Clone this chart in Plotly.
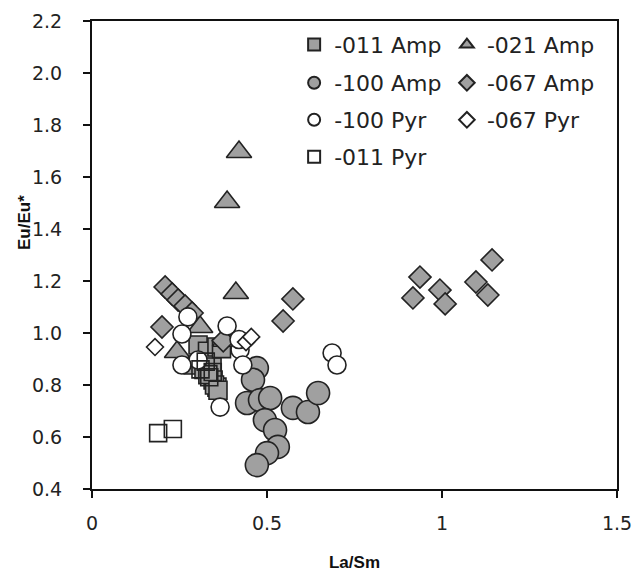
import plotly.graph_objects as go

# -011 Amp (grey squares)
amp011_x = [0.303, 0.33, 0.357, 0.289, 0.32, 0.343, 0.346, 0.357, 0.35, 0.331, 0.37, 0.36]
amp011_y = [0.954, 0.93, 0.946, 0.877, 0.86, 0.869, 0.819, 0.792, 0.80, 0.84, 0.94, 0.78]
# -021 Amp (grey triangles)
amp021_x = [0.42, 0.386, 0.411, 0.309, 0.243, 0.38]
amp021_y = [1.696, 1.504, 1.154, 1.023, 0.927, 0.97]
# -100 Amp (grey circles)
amp100_x = [0.471, 0.46, 0.443, 0.48, 0.509, 0.494, 0.523, 0.531, 0.50, 0.471, 0.574, 0.617, 0.646]
amp100_y = [0.865, 0.82, 0.731, 0.742, 0.75, 0.665, 0.627, 0.562, 0.538, 0.492, 0.712, 0.696, 0.769]
# -067 Amp (grey diamonds)
amp067_x = [0.937, 0.917, 0.994, 1.009, 1.097, 1.131, 1.143, 0.574, 0.546,
            0.209, 0.229, 0.246, 0.266, 0.286, 0.20, 0.375]
amp067_y = [1.215, 1.135, 1.165, 1.112, 1.196, 1.146, 1.281, 1.131, 1.046,
            1.177, 1.15, 1.127, 1.104, 1.077, 1.023, 0.97]
# -100 Pyr (open circles)
pyr100_x = [0.274, 0.257, 0.386, 0.303, 0.257, 0.423, 0.431, 0.366, 0.686, 0.70, 0.42]
pyr100_y = [1.062, 0.996, 1.027, 0.896, 0.877, 0.935, 0.877, 0.715, 0.923, 0.877, 0.975]
# -067 Pyr (open diamonds)
pyr067_x = [0.18, 0.44, 0.455]
pyr067_y = [0.946, 0.965, 0.985]
# -011 Pyr (open squares)
pyr011_x = [0.189, 0.231, 0.31, 0.335, 0.345, 0.325]
pyr011_y = [0.615, 0.631, 0.86, 0.83, 0.85, 0.89]

x_ticks = [0, 0.5, 1, 1.5]
x_tick_labels = ["0", "0.5", "1", "1.5"]
y_ticks = [0.4, 0.6, 0.8, 1.0, 1.2, 1.4, 1.6, 1.8, 2.0, 2.2]
y_tick_labels = ["0.4", "0.6", "0.8", "1.0", "1.2", "1.4", "1.6", "1.8", "2.0", "2.2"]

GREY = "#a0a0a0"
EDGE = "#222222"
FONT = "DejaVu Sans"

fig = go.Figure()

def add(name, xs, ys, symbol, size, fill, legend):
    fig.add_trace(go.Scatter(
        x=xs, y=ys, mode="markers", name=name, legend=legend,
        marker=dict(symbol=symbol, size=size, color=fill,
                    line=dict(color=EDGE, width=1.6)),
    ))

add("-011 Amp", amp011_x, amp011_y, "square", 18, GREY, "legend")
add("-021 Amp", amp021_x, amp021_y, "triangle-up", 22, GREY, "legend2")
add("-100 Amp", amp100_x, amp100_y, "circle", 23, GREY, "legend3")
add("-067 Amp", amp067_x, amp067_y, "diamond", 17, GREY, "legend4")
add("-100 Pyr", pyr100_x, pyr100_y, "circle", 18, "white", "legend5")
add("-067 Pyr", pyr067_x, pyr067_y, "diamond", 13, "white", "legend6")
add("-011 Pyr", pyr011_x, pyr011_y, "square", 17, "rgba(0,0,0,0)", "legend7")

def leg(x, y):
    return dict(
        orientation="v", bgcolor="rgba(0,0,0,0)", borderwidth=0,
        font=dict(family=FONT, size=22, color="#222"),
        itemsizing="constant", xanchor="left", yanchor="top",
        x=x, y=y,
    )

COL1, COL2 = 0.385, 0.676
ROWS = [0.994, 0.9124, 0.8333, 0.7543]

fig.update_layout(
    width=636, height=579,
    margin=dict(l=92, r=19, t=21, b=90),
    paper_bgcolor="white", plot_bgcolor="white",
    showlegend=True,
    legend=leg(COL1, ROWS[0]),
    legend2=leg(COL2, ROWS[0]),
    legend3=leg(COL1, ROWS[1]),
    legend4=leg(COL2, ROWS[1]),
    legend5=leg(COL1, ROWS[2]),
    legend6=leg(COL2, ROWS[2]),
    legend7=leg(COL1, ROWS[3]),
    font=dict(family=FONT, color="#222"),
    xaxis=dict(
        range=[0, 1.5], tickvals=x_ticks, ticktext=x_tick_labels,
        showgrid=False, zeroline=False, automargin=False,
        showline=True, linecolor="#111", linewidth=2, mirror=True,
        ticks="outside", ticklen=7, tickwidth=1.5, tickcolor="#111",
        tickfont=dict(family=FONT, size=19, color="#222"),
        ticklabelstandoff=9,
        title=dict(text="<b>La/Sm</b>", font=dict(family="Liberation Sans", size=17, color="#111"), standoff=23),
    ),
    yaxis=dict(
        range=[0.4, 2.2], tickvals=y_ticks, ticktext=y_tick_labels,
        showgrid=False, zeroline=False, automargin=False,
        showline=True, linecolor="#111", linewidth=2, mirror=True,
        ticks="outside", ticklen=7, tickwidth=1.5, tickcolor="#111",
        tickfont=dict(family=FONT, size=19, color="#222"),
        ticklabelstandoff=17,
    ),
    annotations=[dict(
        text="<b>Eu/Eu*</b>", textangle=-90, showarrow=False,
        xref="paper", yref="paper", x=(24 - 92) / 525, y=(489 - 223) / 468,
        xanchor="center", yanchor="middle",
        font=dict(family="Liberation Sans", size=17, color="#111"),
    )],
)

fig.write_html("out.html", config={"displayModeBar": False},
               post_script="document.body.style.margin='0';")
